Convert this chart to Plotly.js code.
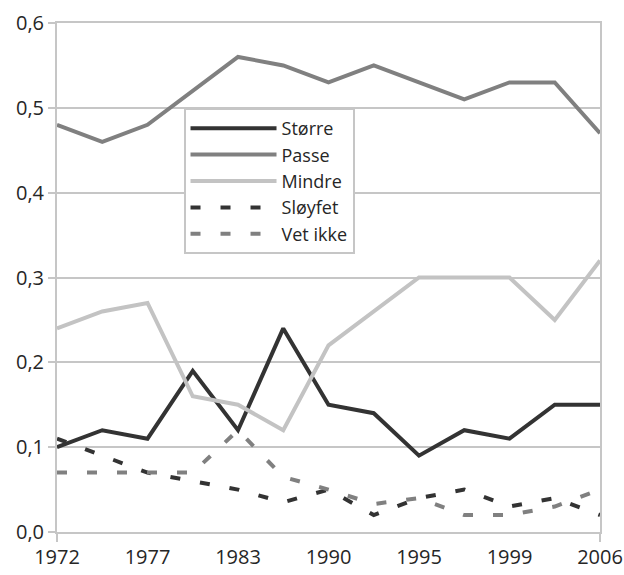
<!DOCTYPE html>
<html>
<head>
<meta charset="utf-8">
<script src="https://cdn.plot.ly/plotly-3.0.1.min.js"></script>
<style>
  html, body { margin: 0; padding: 0; background: #ffffff; }
  #chart { width: 624px; height: 575px; }
</style>
</head>
<body>
<div id="chart"></div>
<script>
// Survey years (intermediate unlabeled rounds are estimated)
const years = ['1972','1974','1977','1980','1983','1986','1990','1992','1995','1997','1999','2002','2006'];
const labeledYears = ['1972','1977','1983','1990','1995','1999','2006'];
const yTicks = [0, 0.1, 0.2, 0.3, 0.4, 0.5, 0.6];

const storre  = [0.10, 0.12, 0.11, 0.19, 0.12, 0.24, 0.15, 0.14, 0.09, 0.12, 0.11, 0.15, 0.15];
const passe   = [0.48, 0.46, 0.48, 0.52, 0.56, 0.55, 0.53, 0.55, 0.53, 0.51, 0.53, 0.53, 0.47];
const mindre  = [0.24, 0.26, 0.27, 0.16, 0.15, 0.12, 0.22, 0.26, 0.30, 0.30, 0.30, 0.25, 0.32];
const sloyfet = [0.11, 0.09, 0.07, 0.06, 0.05, 0.035, 0.05, 0.02, 0.04, 0.05, 0.03, 0.04, 0.02];
const vetIkke = [0.07, 0.07, 0.07, 0.07, 0.12, 0.065, 0.05, 0.033, 0.04, 0.02, 0.02, 0.03, 0.05];

const seriesNames = ['Større', 'Passe', 'Mindre', 'Sløyfet', 'Vet ikke'];

const dark = '#333333', mid = '#808080', light = '#c3c3c3';
const gridColor = '#c6c6c6';
const dashPat = '10px,20px';

function tr(name, y, color, dash) {
  return {
    type: 'scatter', mode: 'lines', name: name,
    x: years, y: y,
    line: { color: color, width: 4, dash: dash || 'solid' },
    hoverinfo: 'skip'
  };
}

const data = [
  tr(seriesNames[0], storre, dark),
  tr(seriesNames[1], passe, mid),
  tr(seriesNames[2], mindre, light),
  tr(seriesNames[3], sloyfet, dark, dashPat),
  tr(seriesNames[4], vetIkke, mid, dashPat)
];

const fam = '"Open Sans", "DejaVu Sans", sans-serif';
const font = { family: fam, size: 20, color: '#262626' };

const layout = {
  width: 624, height: 575,
  margin: { l: 57, r: 24, t: 23, b: 43 },
  paper_bgcolor: '#ffffff', plot_bgcolor: '#ffffff',
  font: font,
  separators: ', ',
  showlegend: true,
  legend: {
    x: 0.233, y: 0.833, xanchor: 'left', yanchor: 'top',
    bgcolor: '#ffffff', bordercolor: gridColor, borderwidth: 2,
    font: { family: fam, size: 18, color: '#262626' },
    itemwidth: 86,
    entrywidth: 165,
    traceorder: 'normal',
    tracegroupgap: 0
  },
  xaxis: {
    type: 'category',
    range: [0, years.length - 1],
    tickmode: 'array', tickvals: labeledYears, ticktext: labeledYears,
    ticks: 'outside', ticklen: 6, tickcolor: 'rgba(0,0,0,0)',
    showgrid: false,
    showline: true, linecolor: gridColor, linewidth: 2, mirror: true,
    minor: { tickmode: 'array', tickvals: [years[0], years[years.length - 1]], ticks: 'outside', ticklen: 8, tickwidth: 2, tickcolor: gridColor, showgrid: false },
    zeroline: false,
    fixedrange: true
  },
  yaxis: {
    range: [0, 0.6],
    tickmode: 'array', tickvals: yTicks, tickformat: '.1f',
    ticks: 'outside', ticklen: 7, tickwidth: 2, tickcolor: gridColor,
    showgrid: true, gridcolor: gridColor, gridwidth: 2,
    showline: true, linecolor: gridColor, linewidth: 2, mirror: true,
    zeroline: false,
    fixedrange: true
  }
};

Plotly.newPlot('chart', data, layout, { displayModeBar: false, staticPlot: true });
</script>
</body>
</html>
